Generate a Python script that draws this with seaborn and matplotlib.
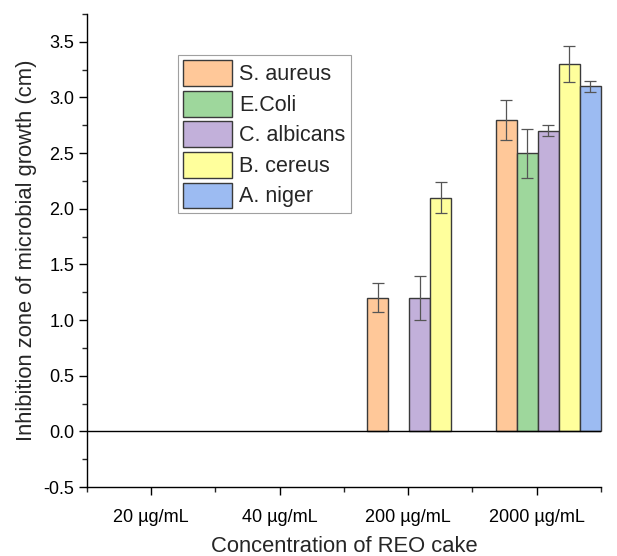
import numpy as np
import pandas as pd
import matplotlib
matplotlib.use("Agg")
import matplotlib.pyplot as plt
from matplotlib.patches import Patch
from matplotlib.ticker import MultipleLocator, FixedLocator
import seaborn as sns

concentrations = ["20 µg/mL", "40 µg/mL", "200 µg/mL", "2000 µg/mL"]
organisms = ["S. aureus", "E.Coli", "C. albicans", "B. cereus", "A. niger"]

s_aureus = [0.0, 0.0, 1.2, 2.8]
e_coli = [0.0, 0.0, 0.0, 2.5]
c_albicans = [0.0, 0.0, 1.2, 2.7]
b_cereus = [0.0, 0.0, 2.1, 3.3]
a_niger = [0.0, 0.0, 0.0, 3.1]

s_aureus_err = [0.0, 0.0, 0.13, 0.18]
e_coli_err = [0.0, 0.0, 0.0, 0.22]
c_albicans_err = [0.0, 0.0, 0.20, 0.05]
b_cereus_err = [0.0, 0.0, 0.14, 0.16]
a_niger_err = [0.0, 0.0, 0.0, 0.05]

colors = ["#FFC899", "#9ED79C", "#C2B0DA", "#FFFF9C", "#9CBBF2"]

values = [s_aureus, e_coli, c_albicans, b_cereus, a_niger]
errors = [s_aureus_err, e_coli_err, c_albicans_err, b_cereus_err, a_niger_err]

rows = []
for org, vals, errs in zip(organisms, values, errors):
    for conc, v, e in zip(concentrations, vals, errs):
        rows.append({"conc": conc, "organism": org, "value": v, "err": e})
df = pd.DataFrame(rows)

sns.set_style("ticks")
plt.rcParams["font.family"] = ["Liberation Sans", "DejaVu Sans"]
plt.rcParams["axes.unicode_minus"] = False

fig = plt.figure(figsize=(6.17, 5.56), dpi=100)
ax = fig.add_axes([0.141, 0.124, 0.833, 0.851])

edge = "#3a3a3a"
group_width = 0.82
sns.barplot(data=df, x="conc", y="value", hue="organism",
            order=concentrations, hue_order=organisms,
            palette=colors, saturation=1, width=group_width, gap=0,
            errorbar=None, edgecolor=edge, linewidth=1.0, ax=ax,
            legend=False)

# error bars on the non-zero bars
n = len(organisms)
bw = group_width / n
for j, org in enumerate(organisms):
    sub = df[df.organism == org].set_index("conc").loc[concentrations]
    xs = np.arange(len(concentrations)) - group_width / 2 + bw * (j + 0.5)
    mask = sub["value"].values > 0
    ax.errorbar(xs[mask], sub["value"].values[mask], yerr=sub["err"].values[mask],
                fmt="none", ecolor="#555555", elinewidth=0.9, capsize=4,
                capthick=0.9, zorder=5)

# hide outlines of empty bars, keep tall ones unclipped
for p in ax.patches:
    p.set_clip_on(False)
    if abs(p.get_height()) < 1e-9:
        p.set_visible(False)
ax.axhline(0, color="black", linewidth=1.0, zorder=4)

shift = 0.09
major = np.arange(len(concentrations)) - shift
ax.set_xticks(major)
ax.set_xticklabels(concentrations)
ax.set_xlim(-0.5 - shift, len(concentrations) - 0.5 - shift)
ax.xaxis.set_minor_locator(FixedLocator(np.arange(-0.5, len(concentrations), 1.0) - shift))

ax.set_ylim(-0.5, 3.75)
ax.set_yticks(np.arange(-0.5, 3.51, 0.5))
ax.yaxis.set_minor_locator(MultipleLocator(0.25))

ax.tick_params(axis="both", which="major", direction="out", length=6, width=1.0,
               labelsize=13, colors="black")
ax.tick_params(axis="both", which="minor", direction="out", length=3.5, width=1.0)
ax.tick_params(axis="x", which="major", pad=10)
ax.tick_params(axis="y", which="major", pad=3)
for s in ["top", "right"]:
    ax.spines[s].set_visible(False)
for s in ["left", "bottom"]:
    ax.spines[s].set_linewidth(1.0)
    ax.spines[s].set_color("black")

ax.set_xlabel("Concentration of REO cake", fontsize=15.8, labelpad=7)
ax.set_ylabel("Inhibition zone of microbial growth (cm)", fontsize=15.8, labelpad=5)

handles = [Patch(facecolor=c, edgecolor=edge, linewidth=1.0, label=o)
           for c, o in zip(colors, organisms)]
leg = ax.legend(handles=handles, loc="upper left", bbox_to_anchor=(0.177, 0.913),
                fontsize=15.5, frameon=True, fancybox=False, edgecolor="#888888",
                handlelength=2.25, handleheight=1.45, handletextpad=0.35,
                labelspacing=0.23, borderpad=0.25, borderaxespad=0)
leg.get_frame().set_linewidth(0.8)

fig.savefig("out.png", dpi=100)
